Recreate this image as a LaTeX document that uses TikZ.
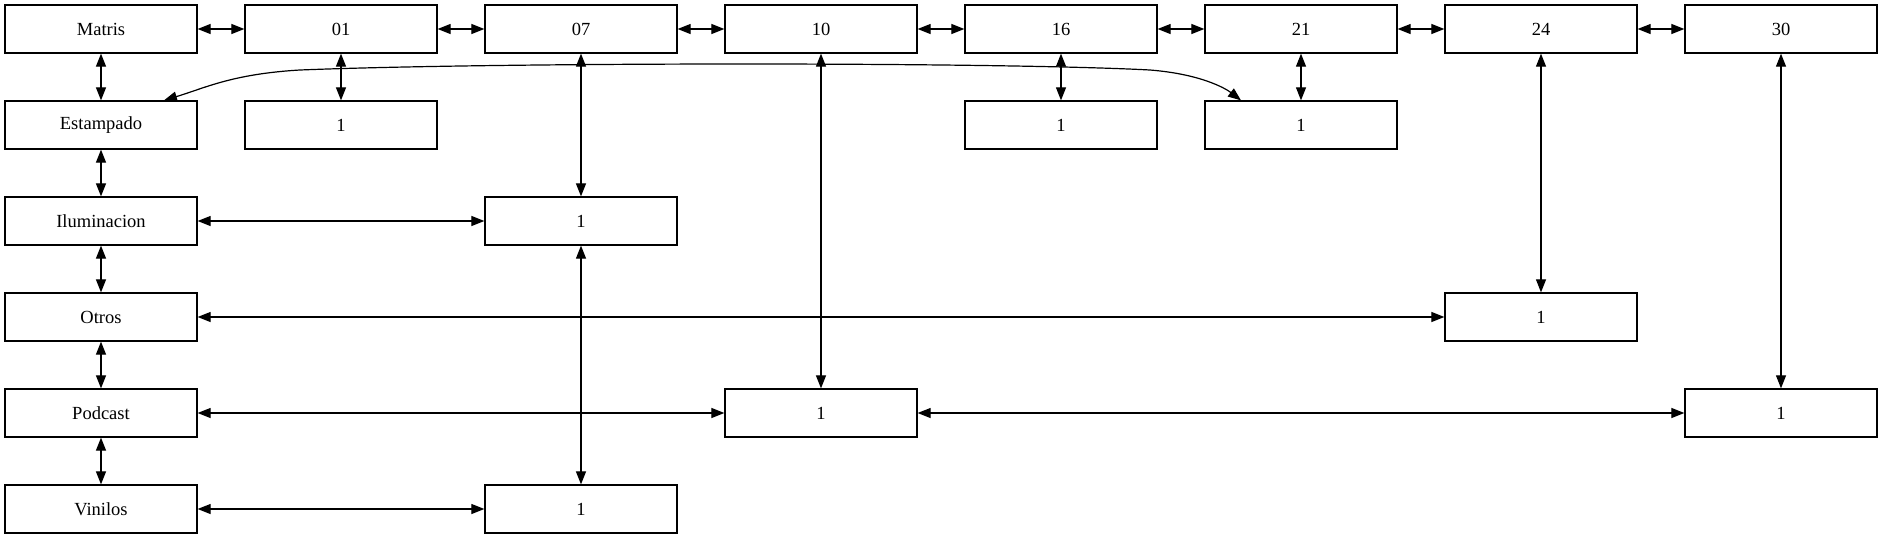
\documentclass[tikz,border=0pt]{standalone}
\usepackage{fontspec}
\setmainfont{Liberation Serif}
\usetikzlibrary{arrows.meta}
\tikzset{
  box/.style={draw, line width=1.3pt, minimum width=192pt, minimum height=48pt, inner sep=0pt, font=\fontsize{18.5}{22}\selectfont},
  link/.style={line width=1.2pt, {Triangle[length=13pt,width=10pt]}-{Triangle[length=13pt,width=10pt]}}
}
\begin{document}
\begin{tikzpicture}[x=1pt,y=-1pt]
\useasboundingbox (0,0) rectangle (1883,539);
% top row
\node[box] (m)   at (101,29) {Matris};
\node[box] (c01) at (341,29) {01};
\node[box] (c07) at (581,29) {07};
\node[box] (c10) at (821,29) {10};
\node[box] (c16) at (1061,29) {16};
\node[box] (c21) at (1301,29) {21};
\node[box] (c24) at (1541,29) {24};
\node[box] (c30) at (1781,29) {30};
% left column
\node[box] (est) at (101,125) {Estampado};
\node[box] (ilu) at (101,221) {Iluminacion};
\node[box] (otr) at (101,317) {Otros};
\node[box] (pod) at (101,413) {Podcast};
\node[box] (vin) at (101,509) {Vinilos};
% value nodes
\node[box] (n01) at (341,125) {1};
\node[box] (n16) at (1061,125) {1};
\node[box] (n21) at (1301,125) {1};
\node[box] (nil) at (581,221) {1};
\node[box] (not) at (1541,317) {1};
\node[box] (npo) at (821,413) {1};
\node[box] (n30) at (1781,413) {1};
\node[box] (nvi) at (581,509) {1};
% top row links
\draw[link] (m) -- (c01);
\draw[link] (c01) -- (c07);
\draw[link] (c07) -- (c10);
\draw[link] (c10) -- (c16);
\draw[link] (c16) -- (c21);
\draw[link] (c21) -- (c24);
\draw[link] (c24) -- (c30);
% left column links
\draw[link] (m) -- (est);
\draw[link] (est) -- (ilu);
\draw[link] (ilu) -- (otr);
\draw[link] (otr) -- (pod);
\draw[link] (pod) -- (vin);
% other links
\draw[link] (c01) -- (n01);
\draw[link] (c16) -- (n16);
\draw[link] (c21) -- (n21);
\draw[link] (c07) -- (nil);
\draw[link] (ilu) -- (nil);
\draw[link] (nil) -- (nvi);
\draw[link] (vin) -- (nvi);
\draw[link] (c10) -- (npo);
\draw[link] (pod) -- (npo);
\draw[link] (npo) -- (n30);
\draw[link] (c30) -- (n30);
\draw[link] (c24) -- (not);
\draw[link] (otr) -- (not);
% curved link
\draw[link] (est.north -| 164,0) .. controls (205,88) and (232,74) .. (300,70)
  .. controls (500,62) and (1000,62) .. (1150,70)
  .. controls (1200,74) and (1225,88) .. (n21.north -| 1241,0);
\end{tikzpicture}
\end{document}
